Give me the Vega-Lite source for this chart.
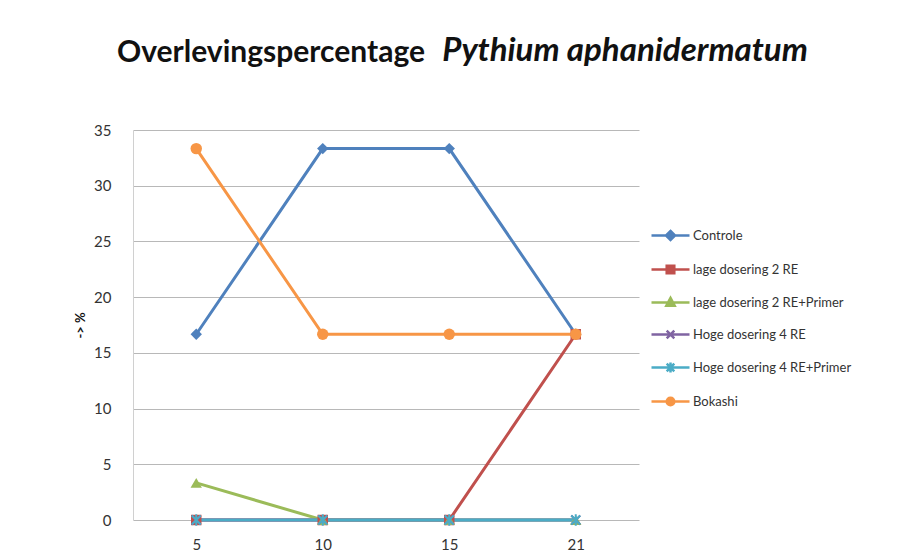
{
  "$schema": "https://vega.github.io/schema/vega-lite/v6.json",
  "width": 506,
  "height": 390,
  "autosize": "none",
  "padding": {"left": 133, "top": 130, "right": 265, "bottom": 35},
  "background": "white",
  "title": {
    "text": "Overlevingspercentage",
    "subtitle": "\u200b\u00a0\u00a0\u00a0\u00a0\u00a0\u00a0\u00a0\u00a0\u00a0\u00a0\u00a0\u00a0\u00a0\u00a0\u00a0\u00a0\u00a0\u00a0\u00a0\u00a0\u00a0\u00a0\u00a0\u00a0\u00a0\u00a0\u00a0\u00a0\u00a0\u00a0\u00a0\u00a0\u00a0\u00a0\u00a0\u00a0\u00a0\u00a0\u00a0\u00a0\u00a0\u00a0\u00a0\u00a0\u00a0Pythium aphanidermatum",
    "anchor": "start",
    "frame": "group",
    "dx": -16,
    "offset": 52,
    "font": "Lato",
    "fontSize": 30,
    "fontWeight": "bold",
    "color": "#111111",
    "subtitleFont": "Lato",
    "subtitleFontSize": 33,
    "subtitleFontWeight": "bold",
    "subtitleFontStyle": "italic",
    "subtitleColor": "#111111",
    "subtitlePadding": -33
  },
  "config": {
    "view": {"stroke": null},
    "font": "Lato"
  },
  "data": {
    "values": [
      {"series": "Controle", "day": "5", "value": 16.67},
      {"series": "Controle", "day": "10", "value": 33.33},
      {"series": "Controle", "day": "15", "value": 33.33},
      {"series": "Controle", "day": "21", "value": 16.67},
      {"series": "lage dosering 2 RE", "day": "5", "value": 0},
      {"series": "lage dosering 2 RE", "day": "10", "value": 0},
      {"series": "lage dosering 2 RE", "day": "15", "value": 0},
      {"series": "lage dosering 2 RE", "day": "21", "value": 16.67},
      {"series": "lage dosering 2 RE+Primer", "day": "5", "value": 3.33},
      {"series": "lage dosering 2 RE+Primer", "day": "10", "value": 0},
      {"series": "lage dosering 2 RE+Primer", "day": "15", "value": 0},
      {"series": "lage dosering 2 RE+Primer", "day": "21", "value": 0},
      {"series": "Hoge dosering 4 RE", "day": "5", "value": 0},
      {"series": "Hoge dosering 4 RE", "day": "10", "value": 0},
      {"series": "Hoge dosering 4 RE", "day": "15", "value": 0},
      {"series": "Hoge dosering 4 RE", "day": "21", "value": 0},
      {"series": "Hoge dosering 4 RE+Primer", "day": "5", "value": 0},
      {"series": "Hoge dosering 4 RE+Primer", "day": "10", "value": 0},
      {"series": "Hoge dosering 4 RE+Primer", "day": "15", "value": 0},
      {"series": "Hoge dosering 4 RE+Primer", "day": "21", "value": 0},
      {"series": "Bokashi", "day": "5", "value": 33.33},
      {"series": "Bokashi", "day": "10", "value": 16.67},
      {"series": "Bokashi", "day": "15", "value": 16.67},
      {"series": "Bokashi", "day": "21", "value": 16.67}
    ]
  },
  "encoding": {
    "x": {
      "field": "day", "type": "ordinal", "sort": ["5", "10", "15", "21"],
      "scale": {"type": "point", "padding": 0.5},
      "axis": {"title": null, "labelAngle": 0, "ticks": false, "domain": false, "grid": false,
               "labelFontSize": 15, "labelColor": "#333333", "labelPadding": 17, "labelFont": "Lato"}
    },
    "y": {
      "field": "value", "type": "quantitative",
      "scale": {"domain": [0, 35]},
      "axis": {"title": "-> %", "values": [0, 5, 10, 15, 20, 25, 30, 35], "ticks": false,
               "domain": true, "domainColor": "#d0d0d0", "gridColor": "#b8b8b8", "gridWidth": 1,
               "labelFontSize": 15, "labelColor": "#333333", "labelPadding": 22, "labelFont": "Lato",
               "titleFontSize": 13, "titleFontWeight": "bold", "titleColor": "#111111", "titlePadding": 6, "titleFont": "Lato"}
    },
    "color": {
      "field": "series", "type": "nominal",
      "scale": {
        "domain": ["Controle", "lage dosering 2 RE", "lage dosering 2 RE+Primer", "Hoge dosering 4 RE", "Hoge dosering 4 RE+Primer", "Bokashi"],
        "range": ["#4F81BD", "#C0504D", "#9BBB59", "#8064A2", "#4BACC6", "#F79646"]
      },
      "legend": {
        "title": null, "orient": "none", "legendX": 517, "legendY": 85,
        "labelFontSize": 13, "labelColor": "#333333", "labelFont": "Lato", "labelOffset": 2,
        "rowPadding": 3, "symbolSize": 1444, "symbolStrokeWidth": 2.5,
        "encode": {
          "symbols": {
            "update": {
              "shape": {"signal": "datum.value === 'Controle' ? 'M-1,0H1M0,-0.24L0.24,0L0,0.24L-0.24,0Z' : datum.value === 'lage dosering 2 RE' ? 'M-1,0H1M-0.2,-0.2H0.2V0.2H-0.2Z' : datum.value === 'lage dosering 2 RE+Primer' ? 'M-1,0H1M0,-0.24L0.22,0.17H-0.22Z' : datum.value === 'Hoge dosering 4 RE' ? 'M-1,0H1M-0.2,-0.2L0.2,0.2M-0.2,0.2L0.2,-0.2' : datum.value === 'Hoge dosering 4 RE+Primer' ? 'M-1,0H1M-0.2,-0.2L0.2,0.2M-0.2,0.2L0.2,-0.2M0,-0.26V0.26' : 'M-1,0H1M0.2,0A0.2,0.2 0 1,1 -0.2,0A0.2,0.2 0 1,1 0.2,0Z'"},
              "fill": {"signal": "scale('color', datum.value)"},
              "stroke": {"signal": "scale('color', datum.value)"},
              "strokeWidth": {"value": 2.5},
              "size": {"value": 1444}
            }
          }
        }
      }
    }
  },
  "layer": [
    {"mark": {"type": "line", "strokeWidth": 3}, "encoding": {}},
    {"transform": [{"filter": "datum.series === 'Controle'"}],
     "mark": {"type": "point", "shape": "diamond", "filled": true, "opacity": 1, "size": 130}},
    {"transform": [{"filter": "datum.series === 'lage dosering 2 RE'"}],
     "mark": {"type": "point", "shape": "square", "filled": true, "opacity": 1, "size": 110}},
    {"transform": [{"filter": "datum.series === 'lage dosering 2 RE+Primer'"}],
     "mark": {"type": "point", "shape": "triangle-up", "filled": true, "opacity": 1, "size": 130}},
    {"transform": [{"filter": "datum.series === 'Hoge dosering 4 RE'"}],
     "mark": {"type": "point", "shape": "M-1,-1L1,1M-1,1L1,-1", "filled": false, "opacity": 1, "size": 80, "strokeWidth": 2}},
    {"transform": [{"filter": "datum.series === 'Hoge dosering 4 RE+Primer'"}],
     "mark": {"type": "point", "shape": "M-1,-1L1,1M-1,1L1,-1M0,-1.3V1.3", "filled": false, "opacity": 1, "size": 80, "strokeWidth": 2}},
    {"transform": [{"filter": "datum.series === 'Bokashi'"}],
     "mark": {"type": "point", "shape": "circle", "filled": true, "opacity": 1, "size": 130}}
  ]
}
